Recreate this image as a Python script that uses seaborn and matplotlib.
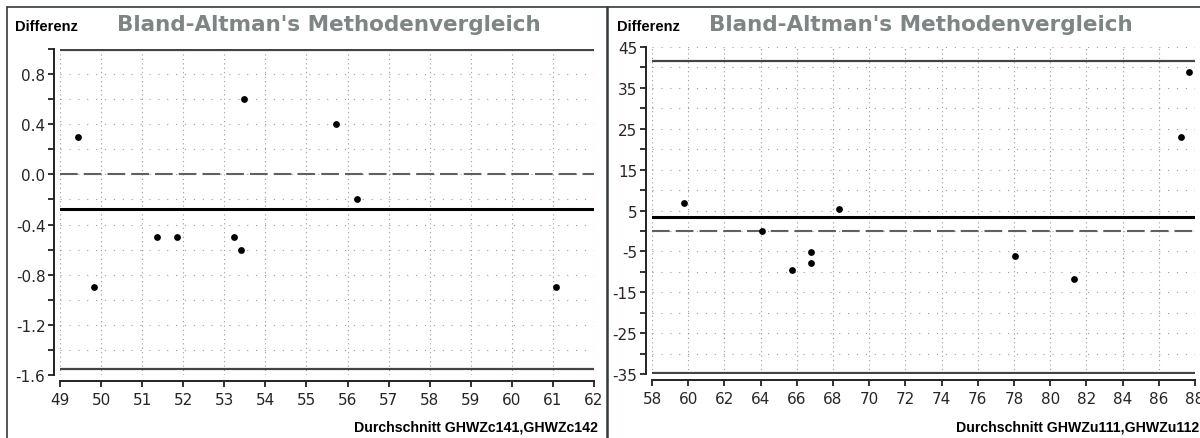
import numpy as np
import pandas as pd
import matplotlib
matplotlib.use("Agg")
import matplotlib.pyplot as plt
import seaborn as sns
from matplotlib.lines import Line2D

# ---------------- data ----------------
left_avg = [49.45, 53.48, 55.72, 49.83, 51.36, 51.85, 53.23, 53.40, 56.23, 61.07]
left_diff = [0.3, 0.6, 0.4, -0.9, -0.5, -0.5, -0.5, -0.6, -0.2, -0.9]
left_bias = -0.28
left_limits = [0.99, -1.55]
left_xticks = list(range(49, 63))
left_yticks = [-1.6, -1.2, -0.8, -0.4, 0.0, 0.4, 0.8]
left_yminor = [-1.4, -1.0, -0.6, -0.2, 0.2, 0.6, 1.0]
left_xlabel = "Durchschnitt GHWZc141,GHWZc142"

right_avg = [87.67, 87.20, 59.77, 68.33, 64.08, 66.78, 66.78, 65.73, 78.06, 81.30]
right_diff = [38.9, 23.0, 6.9, 5.4, 0.0, -5.1, -7.8, -9.5, -6.1, -11.75]
right_bias = 3.4
right_limits = [41.6, -34.8]
right_xticks = list(range(58, 89, 2))
right_yticks = [-35, -25, -15, -5, 5, 15, 25, 35, 45]
right_yminor = [-30, -20, -10, 0, 10, 20, 30, 40]
right_xlabel = "Durchschnitt GHWZu111,GHWZu112"

title = "Bland-Altman's Methodenvergleich"
ylabel = "Differenz"

# ---------------- style ----------------
sns.set_theme(style="white")
plt.rcParams["axes.unicode_minus"] = False
plt.rcParams["font.family"] = ["DejaVu Sans"]

W, H = 1200, 439
fig = plt.figure(figsize=(W / 100, H / 100), dpi=100)
fig.patch.set_facecolor("white")

tick_font = dict(family=["Liberation Sans Narrow", "DejaVu Sans"], size=15.5, color="#939393")
label_font = ["Liberation Sans", "DejaVu Sans"]


def px_rect(x0, y0, x1, y1):
    return [x0 / W, 1 - y1 / H, (x1 - x0) / W, (y1 - y0) / H]


def panel(rect, avg, diff, bias, limits, xticks, yticks, yminor, fmt):
    ax = fig.add_axes(rect)
    df = pd.DataFrame({"avg": avg, "diff": diff})
    ax.set_xlim(xticks[0], xticks[-1])
    ylo, yhi = yticks[0], max(yticks[-1], yminor[-1])
    ax.set_ylim(ylo, yhi)

    # grid
    ax.set_xticks(xticks)
    ax.set_yticks(yticks)
    ax.set_yticks(yminor, minor=True)
    ax.xaxis.grid(True, which="major", color="#9a9a9a", lw=0.8, linestyle=(0, (1, 3)))
    ax.yaxis.grid(True, which="both", color="#9a9a9a", lw=0.8, linestyle=(0, (1, 7)))
    ax.set_axisbelow(True)

    # reference lines
    ax.axhline(0, color="#606060", lw=1.5, dashes=(8.5, 2.9), zorder=2)
    ax.axhline(bias, color="black", lw=2.2, zorder=3)
    for v in limits:
        ax.axhline(v, color="#444444", lw=1.6, zorder=3)

    sns.scatterplot(data=df, x="avg", y="diff", ax=ax, color="black", s=24,
                    linewidth=0, zorder=5, legend=False)

    ax.set_xlabel("")
    ax.set_ylabel("")
    ax.set_xticklabels([str(t) for t in xticks], fontdict=tick_font)
    ax.set_yticklabels([fmt(t) for t in yticks], fontdict=tick_font)

    for s in ["top", "right"]:
        ax.spines[s].set_visible(False)
    for s in ["left", "bottom"]:
        ax.spines[s].set_visible(True)
        ax.spines[s].set_color("#222222")
        ax.spines[s].set_linewidth(1.4)
        ax.spines[s].set_position(("outward", 4.5))
    ax.spines["left"].set_bounds(ylo, yhi)
    ax.spines["bottom"].set_bounds(xticks[0], xticks[-1])
    ax.tick_params(axis="both", which="both", direction="out", length=4,
                   width=1.3, color="#222222", left=True, bottom=True)
    ax.tick_params(axis="y", which="both", pad=2)
    ax.tick_params(axis="x", which="both", pad=3.5)
    ax.set_facecolor("white")
    return ax


ax1 = panel(px_rect(60, 50, 594, 376), left_avg, left_diff, left_bias, left_limits,
            left_xticks, left_yticks, left_yminor, lambda t: f"{t:.1f}")
ax2 = panel(px_rect(652, 48, 1195, 375), right_avg, right_diff, right_bias, right_limits,
            right_xticks, right_yticks, right_yminor, lambda t: f"{t:d}")

# texts
for x0, xl_right, xl in [(15, 598, left_xlabel), (617, 1199, right_xlabel)]:
    fig.text(x0 / W, 1 - 27 / H, ylabel, family=label_font, weight="bold", size=10.5,
             color="black", ha="left", va="center")
    fig.text(xl_right / W, 1 - 428 / H, xl, family=label_font, weight="bold", size=10.2,
             color="black", ha="right", va="center")
for x0 in [117, 709]:
    fig.text(x0 / W, 1 - 25 / H, title, family=["DejaVu Sans"], weight="bold", size=15.5,
             color="#7d8585", ha="left", va="center")

# frame lines
frame_col = "#333b3b"
fig.add_artist(Line2D([7 / W, 1], [1 - 8 / H, 1 - 8 / H], transform=fig.transFigure,
                      color=frame_col, lw=1.2))
fig.add_artist(Line2D([7 / W, 7 / W], [0, 1 - 8 / H], transform=fig.transFigure,
                      color=frame_col, lw=1.2))
fig.add_artist(Line2D([607 / W, 607 / W], [0, 1 - 8 / H], transform=fig.transFigure,
                      color=frame_col, lw=1.8))

fig.savefig("out.png", dpi=100, facecolor="white")
